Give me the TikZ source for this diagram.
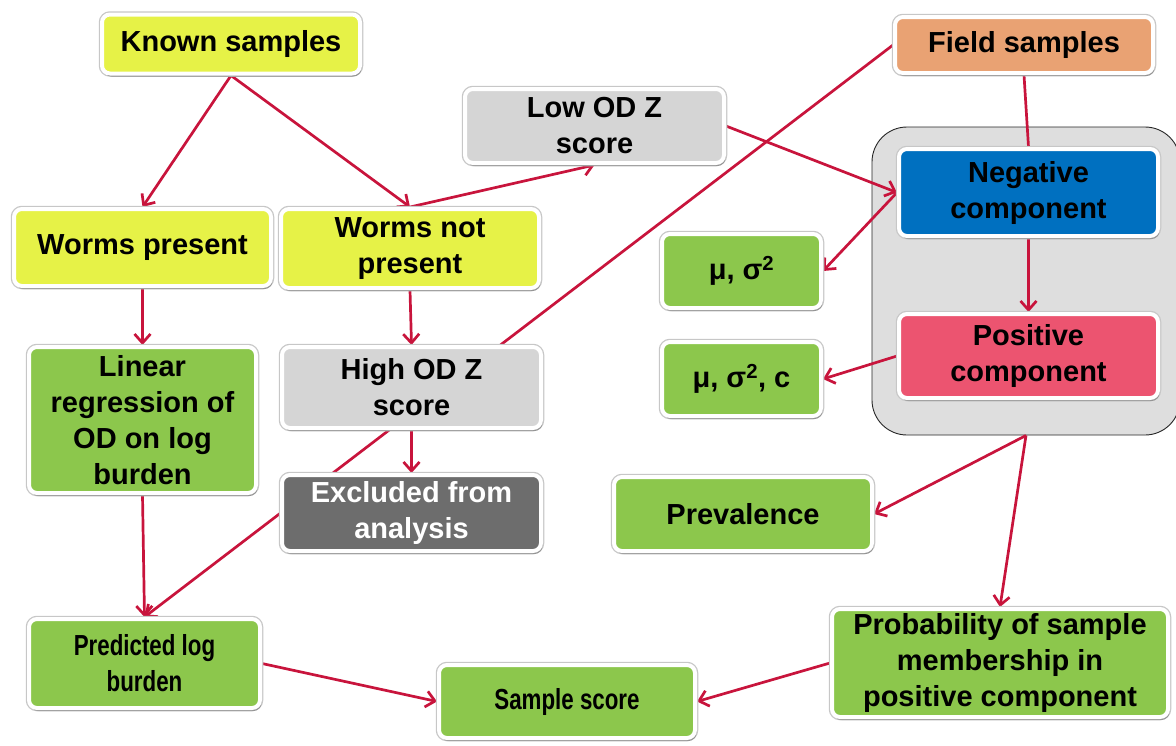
\documentclass[tikz,border=0pt]{standalone}
\usepackage{fontspec}
\setmainfont{Liberation Sans}
\newfontfamily\narrowsans{Liberation Sans}[FakeStretch=0.77]
\usepackage{tikz}
\usetikzlibrary{arrows.meta,shadows}
\definecolor{crimson}{HTML}{C8143C}
\definecolor{lemon}{HTML}{E6F247}
\definecolor{leaf}{HTML}{8CC74C}
\definecolor{ash}{HTML}{D5D5D5}
\definecolor{slate}{HTML}{6D6D6D}
\definecolor{peach}{HTML}{E9A273}
\definecolor{ocean}{HTML}{0070C0}
\definecolor{rose}{HTML}{EC5470}
\definecolor{mist}{HTML}{DEDEDE}
\pgfdeclarelayer{groups}
\pgfdeclarelayer{edges}
\pgfsetlayers{groups,edges,main}
\tikzset{
  flowbox/.style={
    rectangle, rounded corners=8pt, draw=white, fill=#1, line width=4pt,
    inner sep=0pt, align=center,
    font=\bfseries\fontsize{29}{36}\selectfont,
    preaction={draw=black!22, line width=6.5pt},
    drop shadow={shadow xshift=1.5pt, shadow yshift=-3pt, fill=black, opacity=0.25}
  },
  flowbox/.default=leaf,
  narrowtext/.style={font=\narrowsans\bfseries\fontsize{29}{36}\selectfont},
  flowarrow/.style={
    -{Straight Barb[length=9pt,width=16pt]}, line width=2.7pt, color=crimson
  },
  flowline/.style={line width=2.7pt, color=crimson},
  groupbox/.style={
    rectangle, draw=black!85, fill=mist, line width=0.9pt,
    rounded corners=35pt, inner sep=0pt
  },
}

\begin{document}
\begin{tikzpicture}[x=1pt,y=-1pt]
  \useasboundingbox (0,0) rectangle (1176,745);

  % Known samples branch
  \node[flowbox=lemon, minimum width=258pt, minimum height=59pt] (known) at (231,44) {Known samples};
  \node[flowbox=lemon, minimum width=257pt, minimum height=77pt] (wp) at (142.5,247.5) {Worms present};
  \node[flowbox=lemon, minimum width=258pt, minimum height=79pt] (wnp) at (410,248.5) {Worms not\\present};
  \node[flowbox=ash, minimum width=259pt, minimum height=74pt] (lowod) at (594.5,126) {Low OD Z\\score};
  \node[flowbox=ash, minimum width=259pt, minimum height=81pt] (highod) at (411.5,387.5) {High OD Z\\score};
  \node[flowbox=slate, text=white, minimum width=259pt, minimum height=76pt] (excl) at (411.5,513) {Excluded from\\analysis};
  \node[flowbox, minimum width=227pt, minimum height=146pt] (linreg) at (142.5,420) {Linear\\regression of\\OD on log\\burden};
  \node[flowbox, narrowtext, minimum width=231pt, minimum height=89pt] (pred) at (144.5,663.5) {Predicted log\\burden};
  \node[flowbox, narrowtext, minimum width=256pt, minimum height=73pt] (score) at (567,701.5) {Sample score};

  % Field samples and mixture model
  \node[flowbox=peach, minimum width=258pt, minimum height=56pt] (field) at (1024,45) {Field samples};
  \begin{pgfonlayer}{groups}
    \node[groupbox, minimum width=308pt, minimum height=308pt] (grp) at (1026,281) {};
  \end{pgfonlayer}
  \node[flowbox=ocean, minimum width=259pt, minimum height=87pt] (neg) at (1028.5,192.5) {Negative\\component};
  \node[flowbox=rose, minimum width=259pt, minimum height=84pt] (pos) at (1028.5,356) {Positive\\component};
  \node[flowbox, minimum width=159pt, minimum height=74pt] (negpar) at (741.5,271) {μ, σ\textsuperscript{2}};
  \node[flowbox, minimum width=159pt, minimum height=74pt] (pospar) at (741.5,379) {μ, σ\textsuperscript{2}, c};
  \node[flowbox, minimum width=258pt, minimum height=74pt] (prev) at (743,514) {Prevalence};
  \node[flowbox, minimum width=336pt, minimum height=108pt] (prob) at (1000,663) {Probability of sample\\membership in\\positive component};

  % Connectors
  \begin{pgfonlayer}{edges}
    \draw[flowarrow] (known.south) -- (wp.north);
    \draw[flowarrow] (known.south) -- (wnp.north);
    \draw[flowarrow] (wnp.north) -- (lowod.south);
    \draw[flowarrow] (lowod.east) -- (neg.west);
    \draw[flowarrow] (wp.south) -- (linreg.north);
    \draw[flowarrow] (linreg.south) -- (pred.north);
    \draw[flowarrow] (wnp.south) -- (highod.north);
    \draw[flowarrow] (highod.south) -- (excl.north);
    \draw[flowarrow] (field.west) -- (pred.north);
    \draw[flowline] (field.south) -- (neg.north);
    \draw[flowarrow] (neg.west) -- (negpar.east);
    \draw[flowarrow] (neg.south) -- (pos.north);
    \draw[flowarrow] (pos.west) -- (pospar.east);
    \draw[flowarrow] (grp.south) -- (prev.east);
    \draw[flowarrow] (grp.south) -- (prob.north);
    \draw[flowarrow] (prob.west) -- (score.east);
    \draw[flowarrow] (pred.east) -- (score.west);
  \end{pgfonlayer}
\end{tikzpicture}
\end{document}
